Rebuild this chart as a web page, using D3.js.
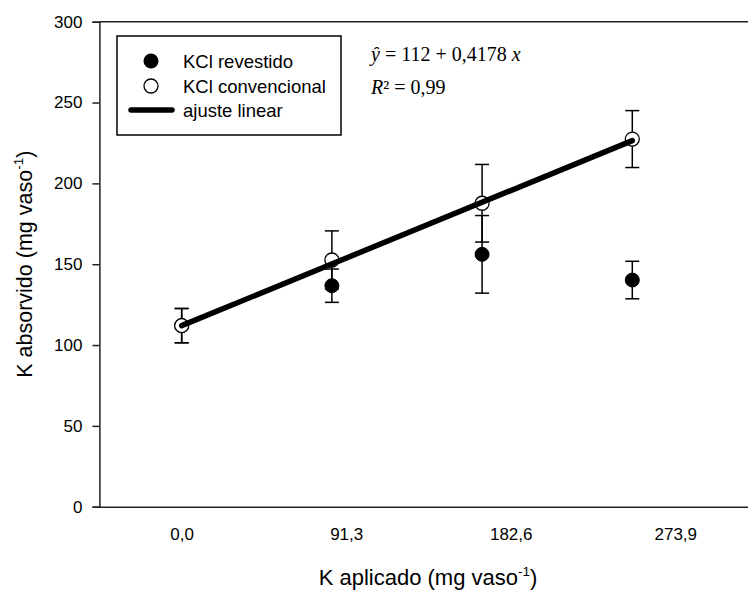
<!DOCTYPE html>
<html>
<head>
<meta charset="utf-8">
<script src="https://cdn.jsdelivr.net/npm/d3@7"></script>
<style>
  html, body { margin: 0; padding: 0; background: #fff; }
  svg { display: block; }
</style>
</head>
<body>
<svg id="chart" width="748" height="590"></svg>
<script>
// ---- data ----
const doses = [0, 91.3, 182.6, 273.9];
const xTickValues = [0, 100, 200, 300];
const xTickLabels = ["0,0", "91,3", "182,6", "273,9"];
const yTickValues = [0, 50, 100, 150, 200, 250, 300];
const revestido = [112, 136.7, 156.1, 140.2];
const revestidoErr = [10.6, 10.3, 24.0, 11.6];
const convencional = [112, 152.6, 187.7, 227.4];
const convencionalErr = [10.6, 18.0, 24.0, 17.6];
const fitIntercept = 112;
const fitSlope = 0.4178;
const legendLabels = ["KCl revestido", "KCl convencional", "ajuste linear"];

// ---- layout ----
const svg = d3.select("#chart");
const sans = "'Liberation Sans', Arial, sans-serif";
const serif = "'Liberation Serif', 'Times New Roman', serif";
const pLeft = 99.4, pRight = 757.5, pTop = 21.7, pBottom = 506.7;

const x = d3.scaleLinear().domain([-50, 350]).range([pLeft, pRight]);
const y = d3.scaleLinear().domain([0, 300]).range([pBottom, pTop]);

const axisColor = "#222";

// frame: top line
svg.append("line").attr("x1", pLeft).attr("x2", pRight).attr("y1", pTop).attr("y2", pTop)
  .attr("stroke", axisColor).attr("stroke-width", 1.5);

// y axis
const yAxis = d3.axisLeft(y).tickValues(yTickValues).tickSize(7).tickPadding(10).tickFormat(d3.format("d"));
const gy = svg.append("g").attr("transform", `translate(${pLeft},0)`).call(yAxis);
gy.select(".domain").attr("stroke", axisColor).attr("stroke-width", 1.5);
gy.selectAll(".tick line").attr("stroke", axisColor).attr("stroke-width", 1.5);
gy.selectAll(".tick text").attr("font-family", sans).attr("font-size", 17).attr("fill", "#000");

// x axis
const xAxis = d3.axisBottom(x).tickValues(xTickValues).tickSize(0).tickPadding(21)
  .tickFormat((d, i) => xTickLabels[i]);
const gx = svg.append("g").attr("transform", `translate(0,${pBottom})`).call(xAxis);
gx.select(".domain").attr("stroke", axisColor).attr("stroke-width", 1.5);
gx.selectAll(".tick text").attr("font-family", sans).attr("font-size", 17).attr("fill", "#000");

// axis titles
const xt = svg.append("text").attr("x", 428).attr("y", 585).attr("text-anchor", "middle")
  .attr("font-family", sans).attr("font-size", 22).attr("fill", "#000");
xt.append("tspan").text("K aplicado (mg vaso");
xt.append("tspan").attr("dy", -9).attr("font-size", 13.5).text("-1");
xt.append("tspan").attr("dy", 9).text(")");

const yt = svg.append("text").attr("transform", `translate(32,${(pTop + pBottom) / 2}) rotate(-90)`)
  .attr("text-anchor", "middle").attr("font-family", sans).attr("font-size", 21.5).attr("fill", "#000");
yt.append("tspan").text("K absorvido (mg vaso");
yt.append("tspan").attr("dy", -9).attr("font-size", 13.5).text("-1");
yt.append("tspan").attr("dy", 9).text(")");

// error bars
function errorBars(vals, errs, cls) {
  const g = svg.append("g").attr("class", cls);
  doses.forEach((d, i) => {
    const cx = x(d), y1 = y(vals[i] + errs[i]), y2 = y(vals[i] - errs[i]);
    g.append("line").attr("x1", cx).attr("x2", cx).attr("y1", y1).attr("y2", y2)
      .attr("stroke", "#000").attr("stroke-width", 1.5);
    [y1, y2].forEach(yy => g.append("line").attr("x1", cx - 7).attr("x2", cx + 7)
      .attr("y1", yy).attr("y2", yy).attr("stroke", "#000").attr("stroke-width", 1.5));
  });
}
errorBars(revestido, revestidoErr, "err-rev");
errorBars(convencional, convencionalErr, "err-conv");

// points
svg.append("g").selectAll("circle").data(doses).join("circle")
  .attr("cx", d => x(d)).attr("cy", (d, i) => y(revestido[i])).attr("r", 7)
  .attr("fill", "#000").attr("stroke", "#000").attr("stroke-width", 1);
svg.append("g").selectAll("circle").data(doses).join("circle")
  .attr("cx", d => x(d)).attr("cy", (d, i) => y(convencional[i])).attr("r", 7)
  .attr("fill", "#fff").attr("stroke", "#000").attr("stroke-width", 1.3);

// fitted line
const fitX = [doses[0], doses[doses.length - 1]];
svg.append("path")
  .attr("d", d3.line().x(d => x(d)).y(d => y(fitIntercept + fitSlope * d))(fitX))
  .attr("stroke", "#000").attr("stroke-width", 5.5).attr("fill", "none").attr("stroke-linecap", "round");

// legend
const lg = svg.append("g");
lg.append("rect").attr("x", 117).attr("y", 36).attr("width", 224).attr("height", 99)
  .attr("fill", "#fff").attr("stroke", "#000").attr("stroke-width", 1.5);
lg.append("circle").attr("cx", 151).attr("cy", 61).attr("r", 7.5).attr("fill", "#000");
lg.append("circle").attr("cx", 151).attr("cy", 86).attr("r", 7).attr("fill", "#fff")
  .attr("stroke", "#000").attr("stroke-width", 1.3);
lg.append("line").attr("x1", 131).attr("x2", 172).attr("y1", 110).attr("y2", 110)
  .attr("stroke", "#000").attr("stroke-width", 5.5).attr("stroke-linecap", "round");
[68, 93, 117].forEach((by, i) => lg.append("text").attr("x", 183).attr("y", by)
  .attr("font-family", sans).attr("font-size", 18.5).attr("fill", "#000").text(legendLabels[i]));

// equation
const eq = svg.append("text").attr("x", 371).attr("y", 61).attr("font-family", serif)
  .attr("font-size", 20).attr("fill", "#000");
eq.append("tspan").attr("font-style", "italic").text("ŷ");
eq.append("tspan").text(" = " + fitIntercept + " + " + String(fitSlope).replace(".", ",") + " ");
eq.append("tspan").attr("font-style", "italic").text("x");
const r2 = svg.append("text").attr("x", 371).attr("y", 94).attr("font-family", serif)
  .attr("font-size", 20).attr("fill", "#000");
r2.append("tspan").attr("font-style", "italic").text("R");
r2.append("tspan").text("² = 0,99");
</script>
</body>
</html>
